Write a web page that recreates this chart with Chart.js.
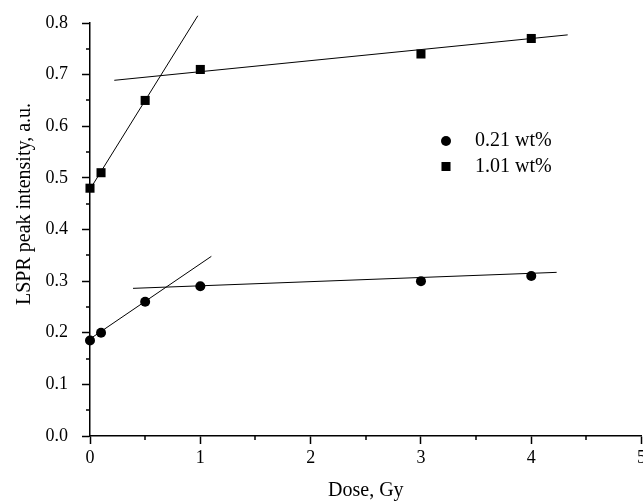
<!DOCTYPE html>
<html>
<head>
<meta charset="utf-8">
<script src="https://cdn.jsdelivr.net/npm/chart.js@4/dist/chart.umd.min.js"></script>
<style>
    html, body { margin: 0; padding: 0; background: #fff; overflow: hidden; }
    #wrap { width: 643px; height: 503px; overflow: hidden; }
</style>
</head>
<body>
<div id="wrap"><canvas id="c" width="648" height="503"></canvas></div>
<script>
// LSPR peak intensity vs dose for two Ag concentrations, with linear fits.
const doses = [0, 0.1, 0.5, 1, 3, 4];
const low = [0.185, 0.2, 0.26, 0.29, 0.30, 0.31];   // 0.21 wt%
const high = [0.48, 0.51, 0.65, 0.71, 0.74, 0.77];  // 1.01 wt%

// fit line end points (dose, intensity)
const highSteepX = [0, 0.977], highSteepY = [0.478, 0.814];
const highFlatX = [0.22, 4.33], highFlatY = [0.689, 0.777];
const lowSteepX = [0, 1.1], lowSteepY = [0.188, 0.348];
const lowFlatX = [0.39, 4.23], lowFlatY = [0.286, 0.317];

const xTicks = [0, 1, 2, 3, 4, 5];
const yTicks = [0, 0.1, 0.2, 0.3, 0.4, 0.5, 0.6, 0.7, 0.8];
const xMinor = [0.5, 1.5, 2.5, 3.5, 4.5];
const yMinor = [0.05, 0.15, 0.25, 0.35, 0.45, 0.55, 0.65, 0.75];

const legendItems = [
    { label: '0.21 wt%', style: 'circle', radius: 5 },
    { label: '1.01 wt%', style: 'rect', radius: 6.4 }
];

const SERIF = '"Liberation Serif", "DejaVu Serif", serif';
const pts = (xs, ys) => xs.map((x, i) => ({ x, y: ys[i] }));

const fitLine = (xs, ys) => ({
    type: 'line',
    data: pts(xs, ys),
    borderColor: '#000',
    borderWidth: 1,
    pointRadius: 0,
    fill: false,
    clip: false,
    order: 2
});

// minor ticks, y-axis title and in-plot legend
const extras = {
    id: 'extras',
    afterDraw(chart) {
        const { ctx, scales: { x, y } } = chart;
        ctx.save();
        ctx.strokeStyle = '#000';
        ctx.lineWidth = 1.5;
        ctx.beginPath();
        yMinor.forEach(v => {
            const py = Math.round(y.getPixelForValue(v));
            ctx.moveTo(x.left - 4, py);
            ctx.lineTo(x.left, py);
        });
        xMinor.forEach(v => {
            const px = Math.round(x.getPixelForValue(v));
            ctx.moveTo(px, y.bottom);
            ctx.lineTo(px, y.bottom + 4);
        });
        ctx.stroke();

        ctx.fillStyle = '#000';
        ctx.font = '20px ' + SERIF;
        ctx.translate(25, 204);
        ctx.rotate(-Math.PI / 2);
        ctx.textAlign = 'center';
        ctx.textBaseline = 'middle';
        ctx.fillText('LSPR peak intensity, a.u.', 0, 0);
        ctx.restore();

        ctx.save();
        ctx.fillStyle = '#000';
        ctx.strokeStyle = '#000';
        ctx.font = '20px ' + SERIF;
        ctx.textBaseline = 'middle';
        legendItems.forEach((it, i) => {
            const cy = 141 + i * 25.5;
            Chart.helpers.drawPoint(ctx, { pointStyle: it.style, radius: it.radius, borderWidth: 0 }, 446, cy);
            ctx.fillText(it.label, 475, cy);
        });
        ctx.restore();
    }
};

new Chart(document.getElementById('c'), {
    type: 'scatter',
    data: {
        datasets: [
            {
                label: '0.21 wt%',
                data: pts(doses, low),
                pointStyle: 'circle',
                pointRadius: 5,
                backgroundColor: '#000',
                borderColor: '#000',
                borderWidth: 0,
                clip: false,
                order: 1
            },
            {
                label: '1.01 wt%',
                data: pts(doses, high),
                pointStyle: 'rect',
                pointRadius: 6.4,
                backgroundColor: '#000',
                borderColor: '#000',
                borderWidth: 0,
                clip: false,
                order: 1
            },
            fitLine(highSteepX, highSteepY),
            fitLine(highFlatX, highFlatY),
            fitLine(lowSteepX, lowSteepY),
            fitLine(lowFlatX, lowFlatY)
        ]
    },
    options: {
        responsive: false,
        animation: false,
        layout: { padding: { left: 0, right: 2, top: 23, bottom: 0 } },
        plugins: { legend: { display: false }, tooltip: { enabled: false } },
        scales: {
            x: {
                type: 'linear',
                min: 0,
                max: 5,
                afterBuildTicks: s => { s.ticks = xTicks.map(v => ({ value: v })); },
                afterFit: s => { s.height = 67; s.paddingLeft = 0; s.paddingRight = 0; },
                ticks: { color: '#000', font: { family: SERIF, size: 18 }, padding: 3, maxRotation: 0, callback: v => String(v) },
                grid: { drawOnChartArea: false, drawTicks: true, tickLength: 8, tickWidth: 1.5, tickColor: '#000' },
                border: { display: true, color: '#000', width: 1.5 },
                title: { display: true, text: 'Dose, Gy', color: '#000', font: { family: SERIF, size: 20 }, padding: { top: 0, bottom: 0 } }
            },
            y: {
                type: 'linear',
                min: 0,
                max: 0.8,
                afterBuildTicks: s => { s.ticks = yTicks.map(v => ({ value: v })); },
                afterFit: s => { s.width = 90; s.paddingTop = 0; s.paddingBottom = 0; },
                ticks: { color: '#000', font: { family: SERIF, size: 18 }, padding: 14, callback: v => v.toFixed(1) },
                grid: { drawOnChartArea: false, drawTicks: true, tickLength: 8, tickWidth: 1.5, tickColor: '#000' },
                border: { display: true, color: '#000', width: 1.5 }
            }
        }
    },
    plugins: [extras]
});
</script>
</body>
</html>
